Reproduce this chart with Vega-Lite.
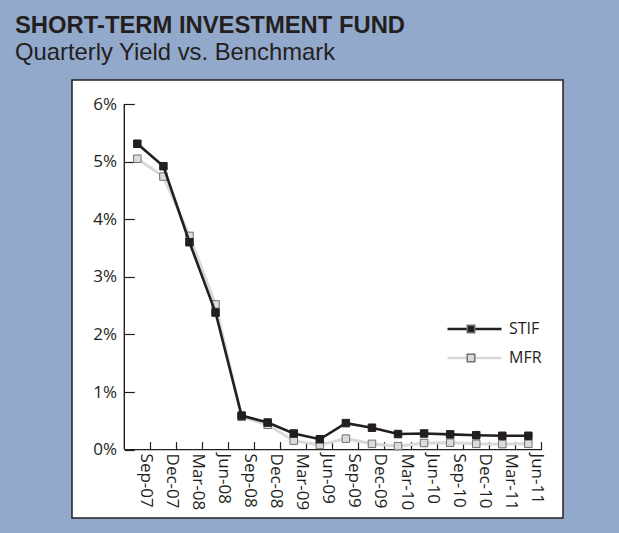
{
  "$schema": "https://vega.github.io/schema/vega-lite/v6.json",
  "width": 491,
  "height": 438,
  "autosize": {"type": "none"},
  "padding": {"left": 72, "top": 80, "right": 56, "bottom": 15},
  "background": "#93a9cc",
  "title": {
    "text": "SHORT-TERM INVESTMENT FUND",
    "subtitle": "Quarterly Yield vs. Benchmark",
    "anchor": "start",
    "frame": "group",
    "dx": -57,
    "offset": 15,
    "font": "Liberation Sans",
    "fontSize": 23.8,
    "fontWeight": "bold",
    "color": "#231f20",
    "subtitleFont": "Liberation Sans",
    "subtitleFontSize": 23.8,
    "subtitleColor": "#231f20",
    "subtitlePadding": 3.5
  },
  "config": {
    "view": {"fill": "white", "stroke": "#231f20", "strokeWidth": 1.5},
    "axis": {
      "labelFont": "Open Sans",
      "labelFontSize": 17,
      "labelColor": "#231f20",
      "tickColor": "#231f20",
      "tickWidth": 1.2,
      "domain": false,
      "grid": false
    },
    "legend": {
      "labelFont": "Open Sans",
      "labelFontSize": 16,
      "labelColor": "#231f20",
      "padding": 0
    }
  },
  "data": {
    "values": [
      {"quarter": "Sep-07", "series": "STIF", "yield": 5.31},
      {"quarter": "Dec-07", "series": "STIF", "yield": 4.92},
      {"quarter": "Mar-08", "series": "STIF", "yield": 3.60},
      {"quarter": "Jun-08", "series": "STIF", "yield": 2.38},
      {"quarter": "Sep-08", "series": "STIF", "yield": 0.59},
      {"quarter": "Dec-08", "series": "STIF", "yield": 0.47},
      {"quarter": "Mar-09", "series": "STIF", "yield": 0.28},
      {"quarter": "Jun-09", "series": "STIF", "yield": 0.18},
      {"quarter": "Sep-09", "series": "STIF", "yield": 0.46},
      {"quarter": "Dec-09", "series": "STIF", "yield": 0.38},
      {"quarter": "Mar-10", "series": "STIF", "yield": 0.27},
      {"quarter": "Jun-10", "series": "STIF", "yield": 0.28},
      {"quarter": "Sep-10", "series": "STIF", "yield": 0.265},
      {"quarter": "Dec-10", "series": "STIF", "yield": 0.25},
      {"quarter": "Mar-11", "series": "STIF", "yield": 0.24},
      {"quarter": "Jun-11", "series": "STIF", "yield": 0.24},
      {"quarter": "Sep-07", "series": "MFR", "yield": 5.05},
      {"quarter": "Dec-07", "series": "MFR", "yield": 4.74},
      {"quarter": "Mar-08", "series": "MFR", "yield": 3.71},
      {"quarter": "Jun-08", "series": "MFR", "yield": 2.52},
      {"quarter": "Sep-08", "series": "MFR", "yield": 0.57},
      {"quarter": "Dec-08", "series": "MFR", "yield": 0.43},
      {"quarter": "Mar-09", "series": "MFR", "yield": 0.155},
      {"quarter": "Jun-09", "series": "MFR", "yield": 0.08},
      {"quarter": "Sep-09", "series": "MFR", "yield": 0.19},
      {"quarter": "Dec-09", "series": "MFR", "yield": 0.10},
      {"quarter": "Mar-10", "series": "MFR", "yield": 0.06},
      {"quarter": "Jun-10", "series": "MFR", "yield": 0.115},
      {"quarter": "Sep-10", "series": "MFR", "yield": 0.12},
      {"quarter": "Dec-10", "series": "MFR", "yield": 0.10},
      {"quarter": "Mar-11", "series": "MFR", "yield": 0.095},
      {"quarter": "Jun-11", "series": "MFR", "yield": 0.10}
    ]
  },
  "layer": [
    {
      "data": {"values": [{}]},
      "mark": {"type": "rule", "color": "#231f20", "strokeWidth": 1.4},
      "encoding": {
        "x": {"datum": "Sep-07", "type": "ordinal", "bandPosition": 0},
        "y": {"datum": 0, "type": "quantitative"},
        "y2": {"datum": 6}
      }
    },
    {
      "data": {"values": [{}]},
      "mark": {"type": "rule", "color": "#231f20", "strokeWidth": 1.4},
      "encoding": {
        "x": {"datum": "Sep-07", "type": "ordinal", "bandPosition": 0},
        "x2": {"datum": "Jun-11", "bandPosition": 1},
        "y": {"datum": 0, "type": "quantitative"}
      }
    },
    {
      "transform": [{"filter": "datum.series === 'MFR'"}],
      "mark": {"type": "line", "strokeWidth": 3},
      "encoding": {
        "x": {
          "field": "quarter", "type": "ordinal",
          "scale": {"type": "band", "domain": ["Sep-07","Dec-07","Mar-08","Jun-08","Sep-08","Dec-08","Mar-09","Jun-09","Sep-09","Dec-09","Mar-10","Jun-10","Sep-10","Dec-10","Mar-11","Jun-11"], "paddingInner": 0, "paddingOuter": 0, "range": [52.3, 469.4]},
          "axis": {
            "orient": "bottom", "offset": -68.4, "bandPosition": 1,
            "tickSize": -8, "labelAngle": 90, "labelAlign": "left", "labelBaseline": "middle",
            "labelPadding": 11.5, "labelOffset": 8.5, "title": null
          }
        },
        "y": {
          "field": "yield", "type": "quantitative",
          "scale": {"domain": [-1.1875, 6.4167], "nice": false, "zero": false},
          "axis": {
            "orient": "left", "offset": -52.3, "values": [0,1,2,3,4,5,6],
            "tickSize": -10, "labelExpr": "datum.value + '%'", "labelPadding": 17.7, "title": null
          }
        },
        "stroke": {
          "field": "series", "type": "nominal",
          "scale": {"domain": ["STIF","MFR"], "range": ["#231f20","#d9d9d9"]},
          "legend": {
            "orient": "none", "legendX": 374, "legendY": 239, "title": null,
            "symbolType": "stroke", "symbolSize": 2916, "symbolStrokeWidth": 2.7,
            "clipHeight": 20, "rowPadding": 9, "labelOffset": 6, "zindex": 0
          }
        }
      }
    },
    {
      "transform": [{"filter": "datum.series === 'MFR'"}],
      "mark": {"type": "square", "size": 56, "filled": true, "stroke": "#707070", "strokeWidth": 1, "opacity": 1},
      "encoding": {
        "x": {"field": "quarter", "type": "ordinal"},
        "y": {"field": "yield", "type": "quantitative"},
        "fill": {
          "field": "series", "type": "nominal",
          "scale": {"domain": ["MFR","STIF"], "range": ["#dcdcdc","#231f20"]},
          "legend": {
            "orient": "none", "legendX": 391, "legendY": 239, "title": null,
            "values": ["STIF","MFR"],
            "symbolType": "square", "symbolSize": 56, "symbolOpacity": 1,
            "clipHeight": 20, "rowPadding": 9, "labelExpr": "''", "zindex": 1,
            "encode": {"symbols": {"update": {"stroke": {"signal": "datum.value === 'STIF' ? '#231f20' : '#707070'"}, "strokeWidth": {"value": 1}}}}
          }
        }
      }
    },
    {
      "transform": [{"filter": "datum.series === 'STIF'"}],
      "mark": {"type": "line", "strokeWidth": 2.6},
      "encoding": {
        "x": {"field": "quarter", "type": "ordinal"},
        "y": {"field": "yield", "type": "quantitative"},
        "stroke": {"field": "series", "type": "nominal"}
      }
    },
    {
      "transform": [{"filter": "datum.series === 'STIF'"}],
      "mark": {"type": "square", "size": 56, "filled": true, "stroke": "#231f20", "strokeWidth": 1, "opacity": 1},
      "encoding": {
        "x": {"field": "quarter", "type": "ordinal"},
        "y": {"field": "yield", "type": "quantitative"},
        "fill": {"field": "series", "type": "nominal"}
      }
    }
  ]
}
